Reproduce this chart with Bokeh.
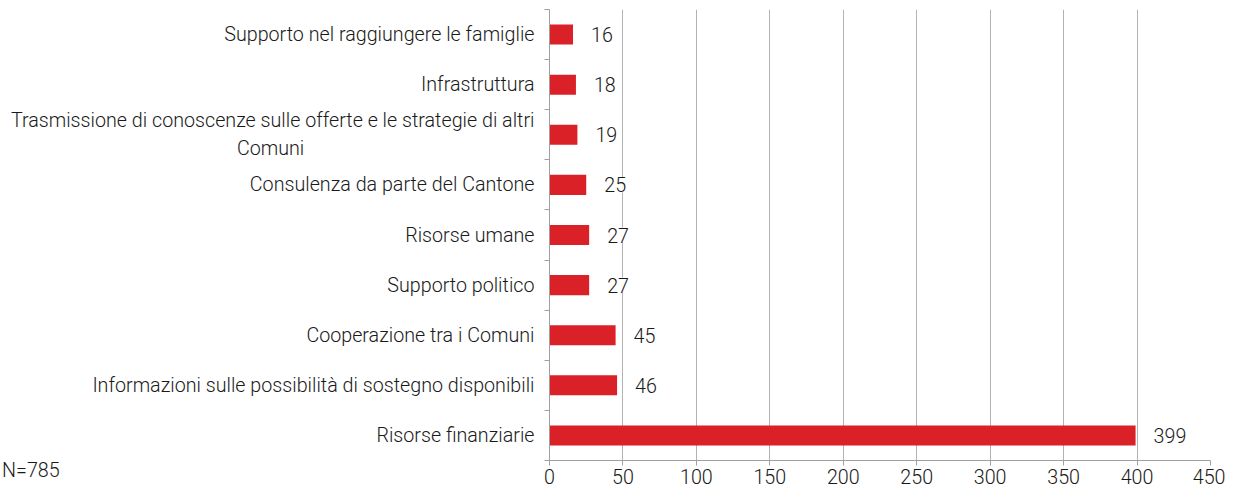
from bokeh.plotting import figure
from bokeh.models import (ColumnDataSource, LabelSet, FixedTicker, Range1d, Div)
from bokeh.layouts import column
from bokeh.core.properties import value
from bokeh.embed import file_html
from bokeh.resources import INLINE

# data (top to bottom in the picture)
categories = [
    "Supporto nel raggiungere le famiglie",
    "Infrastruttura",
    "Trasmissione di conoscenze sulle offerte e le strategie di altri\nComuni" + "\u00a0" * 48 + "\u200b",
    "Consulenza da parte del Cantone",
    "Risorse umane",
    "Supporto politico",
    "Cooperazione tra i Comuni",
    "Informazioni sulle possibilità di sostegno disponibili",
    "Risorse finanziarie",
]
values = [16, 18, 19, 25, 27, 27, 45, 46, 399]
x_ticks = [0, 50, 100, 150, 200, 250, 300, 350, 400, 450]
note = "N=785"

FONT = "Roboto Light, Roboto"
FS = "19.7px"
RED = "#da2128"
TXT = "#1a1a1a"
n = len(categories)
# position index: bottom category at 0.5
ypos = [n - i - 0.5 for i in range(n)]

src = ColumnDataSource(dict(y=ypos, v=values, lab=[str(v) for v in values]))

p = figure(width=1225, height=488, output_backend="svg", toolbar_location=None,
           x_range=Range1d(0, 450), y_range=Range1d(0, n),
           min_border_left=549, min_border_right=15, min_border_top=9,
           min_border_bottom=28, x_axis_location="below", y_axis_location="left")
p.outline_line_color = None
p.background_fill_color = "white"
p.border_fill_color = "white"

p.hbar(y="y", right="v", left=0, height=0.4, source=src, color=RED, line_color=None)

# grid
p.ygrid.visible = False
p.xgrid.ticker = FixedTicker(ticks=x_ticks)
p.xgrid.grid_line_color = "#b3b3b3"
p.xgrid.grid_line_width = 1

# x axis
xa = p.xaxis[0]
xa.ticker = FixedTicker(ticks=x_ticks)
xa.axis_line_color = "#a0a0a0"
xa.major_tick_line_color = "#a0a0a0"
xa.major_tick_in = 0
xa.major_tick_out = 5
xa.minor_tick_line_color = None
xa.major_label_standoff = 3
xa.major_label_text_font = FONT
xa.major_label_text_font_size = FS
xa.major_label_text_color = TXT

# y axis
ya = p.yaxis[0]
ya.ticker = FixedTicker(ticks=ypos, minor_ticks=list(range(n + 1)))
ya.major_label_overrides = {float(y): c for y, c in zip(ypos, categories)}
ya.axis_line_color = "#a0a0a0"
ya.major_tick_line_color = None
ya.major_tick_in = 0
ya.major_tick_out = 0
ya.minor_tick_line_color = "#a0a0a0"
ya.minor_tick_in = 0
ya.minor_tick_out = 5
ya.major_label_standoff = 10
ya.major_label_text_font = FONT
ya.major_label_text_font_size = FS
ya.major_label_text_color = TXT

labels = LabelSet(x="v", y="y", text="lab", source=src, x_offset=18,
                  text_baseline="middle", text_align="left",
                  text_font=value(FONT), text_font_size=FS, text_color=TXT,
                  background_fill_color="white", background_fill_alpha=1.0)
p.add_layout(labels)

note_div = Div(text=note, width=80, height=22, margin=(-28, 0, 0, 2),
               styles={"font-family": FONT, "font-size": FS, "color": TXT,
                       "line-height": "22px", "white-space": "nowrap"})

layout = column(p, note_div, spacing=0)

open("out.html", "w").write(file_html(layout, INLINE))
